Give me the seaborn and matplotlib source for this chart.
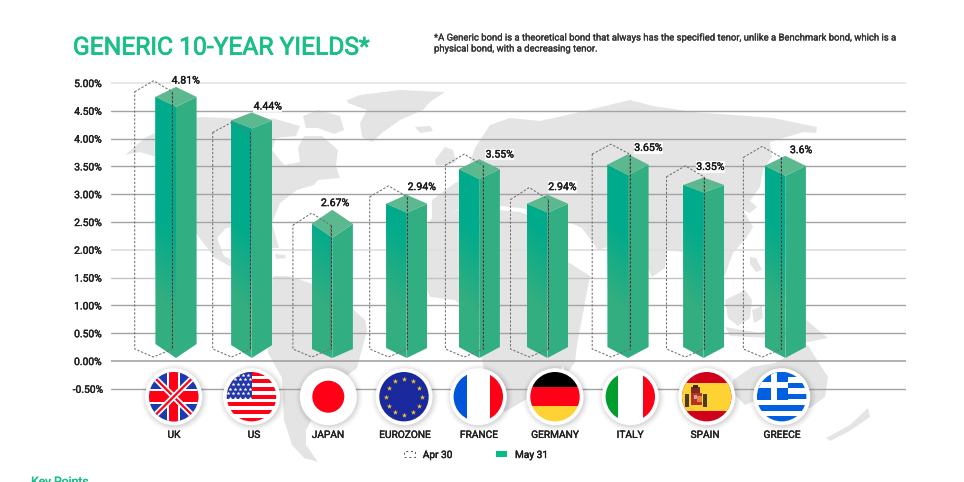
import numpy as np
import pandas as pd
import matplotlib
matplotlib.use("Agg")
import matplotlib.pyplot as plt
from matplotlib.patches import Polygon, Circle, Rectangle, Patch
from matplotlib.path import Path
from matplotlib.transforms import ScaledTranslation
import matplotlib.patheffects as pe
import seaborn as sns

# ---------- data ----------
countries = ["UK", "US", "JAPAN", "EUROZONE", "FRANCE", "GERMANY", "ITALY", "SPAIN", "GREECE"]
apr_30 = [5.04, 4.29, 2.66, 3.15, 3.72, 3.12, 3.90, 3.51, 3.86]
may_31 = [4.93, 4.47, 2.72, 2.99, 3.63, 2.99, 3.72, 3.30, 3.69]
may_labels = ["4.81%", "4.44%", "2.67%", "2.94%", "3.55%", "2.94%", "3.65%", "3.35%", "3.6%"]
y_ticks = [5.0, 4.5, 4.0, 3.5, 3.0, 2.5, 2.0, 1.5, 1.0, 0.5, 0.0, -0.5]
y_tick_labels = ["5.00%", "4.50%", "4.00%", "3.50%", "3.00%", "2.50%", "2.00%", "1.50%", "1.00%", "0.50%", "0.00%", "-0.50%"]

# ---------- style ----------
PX_W, PX_H = 964, 482
Y0_PX, PX_PER_UNIT = 361.0, 55.6
SLOT0_PX, SLOT_PX = 174.0, 76.0
AX_L, AX_R, AX_T, AX_B = 111, 906, 70, 400
BAR_W_PX = 41.2
bar_shift_px = [2, 1.7, 6.3, 4.7, 1.3, -6.5, -2, -2.3, 3.3]
dash_shift_px = [-20.5, -18.5, -14.3, -13.5, -13.8, -24.7, -19, -20.7, -19.8]
xlabel_shift_px = [0, 4, 2, 3, 1, 1, 0, -1, 0]
cap_px = [10, 8, 14, 9, 10, 9, 10.5, 7.5, 10]
base_side_px = [344, 345, 349, 348, 347, 347, 347, 347, 347]
dash_cap_px = [11, 10, 12, 11, 11, 12, 10, 11, 11]
label_off_px = [(9.7, -6.3), (16, -6), (2.7, -6.7), (15, -7.7), (20.4, -4.6),
                (14.8, -7.7), (20.3, -6.3), (6.6, -10.6), (15.7, -5.7)]
flag_x = [173.7, 251.5, 328.3, 404, 478.3, 555, 630.3, 706.7, 781.7]
FLAG_Y, FLAG_R, RING_R = 396.7, 24.7, 28.5
TEAL, GREEN, TOPC, RIGHTC = "#00AB8C", "#33AE80", "#5CB88F", "#32AF82"
MAPC = "#E4E4E4"
TITLEC = "#19BF86"
FONT = "Roboto"
INK = "#1f1f1f"

def medium(color, width=0.28):
    return [pe.withStroke(linewidth=width, foreground=color)]

sns.set_theme(style="white")
plt.rcParams["font.family"] = [FONT, "DejaVu Sans"]

fig = plt.figure(figsize=(PX_W / 100, PX_H / 100), dpi=100, facecolor="white")

# ---------- background map (pixel overlay) ----------
bg = fig.add_axes([0, 0, 1, 1], zorder=0)
bg.set_xlim(0, PX_W); bg.set_ylim(PX_H, 0); bg.axis("off")
land = [
    # North America
    [(125,155),(145,138),(175,122),(200,117),(230,118),(262,124),(272,118),(300,126),(296,136),(276,138),(272,150),
     (284,165),(300,162),(298,148),(304,136),(322,136),(338,150),(336,166),(340,178),(318,180),(314,185),(297,190),
     (280,203),(272,223),(279,248),(272,248),(262,232),(240,226),(226,228),(217,238),(224,256),(250,268),(262,272),
     (272,277),(262,282),(240,272),(215,258),(195,232),(190,205),(178,180),(160,158),(140,152)],
    # Arctic islands
    [(303,116),(318,110),(340,116),(344,130),(334,134),(318,128),(306,128)],
    # Caribbean
    [(275,254),(285,255),(286,258),(276,259)],
    # South America
    [(273,276),(288,276),(310,283),(335,293),(365,320),(367,330),(357,368),(335,385),(322,400),(306,430),(306,445),(318,462),(304,458),(292,445),(284,420),(282,378),(268,353),(266,325)],
    # Greenland
    [(347,100),(360,95),(400,90),(445,92),(430,102),(423,110),(400,120),(382,133),(372,142),(362,137),(360,123),(367,110),(348,103)],
    # Iceland
    [(415,127),(430,126),(433,131),(420,133)],
    # British Isles
    [(435,160),(445,147),(453,150),(456,162),(448,165),(436,165)],
    # Eurasia
    [(470,163),(475,148),(490,125),(510,118),(540,121),(580,112),(630,100),(653,106),(693,112),(773,118),(817,127),(816,133),
     (803,132),(790,136),(770,142),(772,157),(763,170),(760,187),(743,210),(753,227),(747,237),(733,253),(725,275),(715,285),
     (705,270),(695,262),(683,252),(667,250),(665,268),(652,277),(640,252),(615,245),(598,250),(582,228),(568,222),(545,212),
     (520,208),(490,205),(468,206),(432,220),(432,200),(455,183),(465,178)],
    # Africa
    [(432,218),(470,207),(520,212),(555,225),(568,262),(590,276),(577,345),(550,385),(505,412),(490,395),(482,360),(478,325),
     (455,300),(430,297),(415,265),(420,235)],
    # Madagascar
    [(570,350),(577,345),(575,362),(566,375),(563,365)],
    # East-Asia islands
    [(732,198),(745,196),(757,207),(750,213),(738,208)],
    [(750,257),(756,258),(762,270),(756,272),(750,264)],
    # Indonesia
    [(725,300),(745,290),(752,300),(750,318),(738,326),(728,318)],
    [(752,310),(762,306),(763,318),(754,323)],
    [(725,327),(760,333),(800,315),(828,338),(808,342),(770,338),(730,336)],
    # Australia
    [(733,380),(752,367),(775,363),(808,345),(817,360),(828,377),(825,397),(810,408),(793,405),(770,395),(745,405),(735,395)],
    # New Zealand
    [(868,408),(870,417),(848,432),(830,441),(826,438),(850,425)],
]
for pts in land:
    bg.add_patch(Polygon(pts, closed=True, fc=MAPC, ec="none"))

# ---------- main chart ----------
ax = fig.add_axes([AX_L / PX_W, 1 - AX_B / PX_H, (AX_R - AX_L) / PX_W, (AX_B - AX_T) / PX_H], zorder=1)
ax.patch.set_alpha(0)

df = pd.DataFrame({
    "country": countries * 2,
    "value": may_31 * 2,
    "face": ["left"] * len(countries) + ["right"] * len(countries),
})
sns.barplot(data=df, x="country", y="value", hue="face", hue_order=["left", "right"],
            palette={"left": GREEN, "right": RIGHTC}, order=countries, dodge=True,
            width=BAR_W_PX / SLOT_PX, gap=0, saturation=1, legend=False, ax=ax, zorder=3,
            err_kws={"linewidth": 0}, linewidth=0)

u = 1 / PX_PER_UNIT       # one pixel in value units
ux = 1 / SLOT_PX          # one pixel in category units
hw = BAR_W_PX / 2 * ux
tip = (Y0_PX - 358) * u

grad_pos = np.linspace(0, 1, 60)
teal_rgb = matplotlib.colors.to_rgb(TEAL)

for i, v in enumerate(may_31):
    c = i + bar_shift_px[i] * ux
    cap = cap_px[i] * u
    side = (Y0_PX - base_side_px[i]) * u
    l_path = Path([(c - hw, v - cap), (c, v - 2 * cap), (c, tip), (c - hw, side), (c - hw, v - cap)])
    r_path = Path([(c, v - 2 * cap), (c + hw, v - cap), (c + hw, side), (c, tip), (c, v - 2 * cap)])
    lp = ax.containers[0].patches[i]
    rp = ax.containers[1].patches[i]
    for p, path in ((lp, l_path), (rp, r_path)):
        p.set_x(p.get_x() + bar_shift_px[i] * ux)
        p.set_clip_path(path, ax.transData)
    # teal-to-green fade on the front face
    ys = v - (v - tip) * grad_pos
    xs = np.linspace(0, 1, 20)
    xx, yy = np.meshgrid(xs, ys)
    alpha = np.clip((yy + 0.35 * xx - 1.2) / 1.4, 0, 1)
    rgba = np.dstack([np.full_like(alpha, teal_rgb[0]), np.full_like(alpha, teal_rgb[1]),
                      np.full_like(alpha, teal_rgb[2]), alpha])
    im = ax.imshow(rgba, extent=(c - hw, c, tip, v), aspect="auto", zorder=3.1, interpolation="bilinear")
    im.set_clip_path(l_path, ax.transData)
    # top cap
    ax.add_patch(Polygon([(c - hw, v - cap), (c, v), (c + hw, v - cap), (c, v - 2 * cap)],
                         closed=True, fc=TOPC, ec="none", zorder=3.2))
    # printed label
    dx, dy = label_off_px[i]
    ann = ax.annotate(may_labels[i], xy=(c, v), xytext=(dx * 0.72, -dy * 0.72), textcoords="offset points",
                      ha="center", va="center", fontsize=7.6, color="#1a1a1a", zorder=6,
                      bbox=dict(boxstyle="square,pad=0.06", fc="white", ec="none", alpha=0.9))
    ann.set_path_effects(medium("#1a1a1a"))

# Apr 30 dashed outlines
dhw = 18.8 * ux
for i, v in enumerate(apr_30):
    c = i + dash_shift_px[i] * ux
    cap = dash_cap_px[i] * u
    side_b = (Y0_PX - 349) * u
    tip_b = (Y0_PX - 357) * u
    ax.plot([c - dhw, c, c + dhw, c + dhw, c, c - dhw, c - dhw],
            [v - cap, v, v - cap, side_b, tip_b, side_b, v - cap],
            color="#707070", lw=0.75, ls=(0, (2.2, 1.6)), zorder=5)
    ax.plot([c + dhw, c + dhw], [v - cap, side_b], color="#3c3c3c", lw=0.75, ls=(0, (2.2, 1.6)), zorder=5.1)

ax.set_xlim((AX_L - SLOT0_PX) / SLOT_PX, (AX_R - SLOT0_PX) / SLOT_PX)
ax.set_ylim((Y0_PX - AX_B) * u, (Y0_PX - AX_T) * u)
ax.set_yticks(y_ticks)
ax.set_yticklabels(y_tick_labels)
ax.set_xlabel(""); ax.set_ylabel("")
ax.tick_params(axis="y", length=0, pad=16.5, labelsize=7.4, labelcolor=INK)
ax.tick_params(axis="x", length=0, pad=21.5, labelsize=7.3, labelcolor=INK)
for t in ax.get_yticklabels():
    t.set_ha("center"); t.set_path_effects(medium(INK))
for t, s in zip(ax.get_xticklabels(), xlabel_shift_px):
    t.set_path_effects(medium(INK))
    t.set_transform(t.get_transform() + ScaledTranslation(s / 100, 0, fig.dpi_scale_trans))
for s in ax.spines.values():
    s.set_visible(False)
ax.grid(True, axis="y", color="#A3A3A3", lw=1.0)
ax.grid(False, axis="x")
ax.set_axisbelow(True)
grid = ax.get_ygridlines()
grid[0].set_color("#E6E6E6"); grid[0].set_linewidth(1.3)
grid[6].set_color("#DEDEDE"); grid[6].set_linewidth(1.2)
grid[7].set_color("#C4C4C4")
grid[10].set_linewidth(1.2)

# legend
handles = [Patch(fc="white", ec="#555555", lw=0.7, ls=(0, (2, 3)), label="Apr 30"),
           Patch(fc="#00BE85", ec="none", label="May 31")]
leg = ax.legend(handles=handles, ncol=2, frameon=False, handlelength=1.1, handleheight=0.55,
                handletextpad=0.75, columnspacing=4.3, borderpad=0, borderaxespad=0,
                loc="center left", bbox_to_anchor=(404 / PX_W, 1 - 455 / PX_H), bbox_transform=fig.transFigure,
                labelcolor=INK, prop={"size": 7.3})
for t in leg.get_texts():
    t.set_path_effects(medium(INK))

# ---------- flags and header (pixel overlay) ----------
fg = fig.add_axes([0, 0, 1, 1], zorder=2)
fg.set_xlim(0, PX_W); fg.set_ylim(PX_H, 0); fg.axis("off"); fg.patch.set_alpha(0)

RED, BLUE, GOLD = "#FF0016", "#0060DF", "#FFD233"

def flag(cx, draw):
    for r, a in ((34, .012), (33, .015), (32, .02), (31, .025), (30, .03), (29, .04)):
        fg.add_patch(Circle((cx + 1, FLAG_Y + 1), r, fc="black", ec="none", alpha=a))
    fg.add_patch(Circle((cx, FLAG_Y), RING_R, fc="white", ec="none"))
    clip = Circle((cx, FLAG_Y), FLAG_R, transform=fg.transData, fc="white", ec="none")
    fg.add_patch(clip)
    before = set(fg.get_children())
    draw(cx, FLAG_Y)
    for art in fg.get_children():
        if art not in before:
            art.set_clip_path(clip)

def rect(x0, y0, x1, y1, c):
    fg.add_patch(Rectangle((x0, y0), x1 - x0, y1 - y0, fc=c, ec="none"))

def uk(x, y):
    rect(x - 26, y - 26, x + 26, y + 26, "#1C3AAE")
    for s in (1, -1):
        fg.plot([x - 26, x + 26], [y - 26 * s, y + 26 * s], color="white", lw=4.2, solid_capstyle="butt")
        fg.plot([x - 26, x + 26], [y - 26 * s, y + 26 * s], color=RED, lw=1.6, solid_capstyle="butt")
    rect(x - 6.5, y - 26, x + 6.5, y + 26, "white")
    rect(x - 26, y - 7.5, x + 26, y + 7.5, "white")
    rect(x - 4.5, y - 26, x + 4.5, y + 26, RED)
    rect(x - 26, y - 5.7, x + 26, y + 5.7, RED)

def us(x, y):
    h = 50 / 13
    rect(x - 26, y - 26, x + 26, y + 26, "white")
    for k in range(0, 13, 2):
        rect(x - 26, y - 25 + k * h, x + 26, y - 25 + (k + 1) * h, RED)
    rect(x - 26, y - 26, x, y + 2, "#2438A8")
    xs, ys = np.meshgrid(np.arange(-23, 0, 5.0), np.arange(-22, 2, 4.6))
    xs = xs + (np.arange(xs.shape[0])[:, None] % 2) * 2.5
    fg.scatter(x + xs.ravel() - 1, y + ys.ravel(), s=5, c="white", marker="*", linewidths=0.2)

def japan(x, y):
    rect(x - 26, y - 26, x + 26, y + 26, "white")
    fg.add_patch(Circle((x, y), 16, fc=RED, ec="none"))

def eu(x, y):
    rect(x - 26, y - 26, x + 26, y + 26, "#1A2A9C")
    a = np.arange(12) * np.pi / 6
    fg.scatter(x + 17.8 * np.cos(a), y + 17.8 * np.sin(a), s=16, c="#F7C52E", marker="*", linewidths=0)

def france(x, y):
    rect(x - 26, y - 26, x + 26, y + 26, "white")
    rect(x - 26, y - 26, x - 11, y + 26, "#0055D9")
    rect(x + 12, y - 26, x + 26, y + 26, RED)

def germany(x, y):
    rect(x - 26, y - 26, x + 26, y - 9.3, "black")
    rect(x - 26, y - 9.3, x + 26, y + 9.3, RED)
    rect(x - 26, y + 9.3, x + 26, y + 26, GOLD)

def italy(x, y):
    rect(x - 26, y - 26, x + 26, y + 26, "white")
    rect(x - 26, y - 26, x - 12.7, y + 26, "#009E2E")
    rect(x + 13, y - 26, x + 26, y + 26, RED)

def spain(x, y):
    rect(x - 26, y - 26, x + 26, y + 26, "#D0021B")
    rect(x - 26, y - 14, x + 26, y + 14, GOLD)
    cx = x - 11
    rect(cx - 5, y - 4, cx + 6, y + 8, "#B5312A")
    rect(cx + 1, y - 1, cx + 6, y + 5, "#E08A2A")
    rect(cx - 2, y - 2, cx + 1, y + 2, "#C9A0C0")
    rect(cx - 4.5, y - 10, cx + 4.5, y - 4, "#7A2A1E")
    rect(cx - 2.5, y - 11.5, cx + 2.5, y - 9, "#3a2a1a")
    rect(cx - 10.5, y - 3, cx - 7, y + 10, "#4a3a2a")
    rect(cx + 7.5, y - 3, cx + 11, y + 10, "#4a3a2a")

def greece(x, y):
    h = 50 / 9
    rect(x - 26, y - 26, x + 26, y + 26, "white")
    for k in range(0, 9, 2):
        rect(x - 26, y - 25 + k * h, x + 26, y - 25 + (k + 1) * h, BLUE)
    rect(x - 26, y - 26, x + 6, y + 3, BLUE)
    rect(x - 11, y - 26, x - 5, y + 3, "white")
    rect(x - 26, y - 14.5, x + 6, y - 8.5, "white")

for fx, fn in zip(flag_x, [uk, us, japan, eu, france, germany, italy, spain, greece]):
    flag(fx, fn)

# header texts
title = fg.text(73, 54.5, "GENERIC 10-YEAR YIELDS*", fontsize=17.7,
                color=TITLEC, ha="left", va="baseline")
title.set_path_effects(medium(TITLEC, 0.6))
note1 = fg.text(434, 40.5, "*A Generic bond is a theoretical bond that always has the specified tenor, unlike a Benchmark bond, which is a",
                fontsize=6.83, color="#333333", ha="left", va="baseline")
note2 = fg.text(434, 51.5, "physical bond, with a decreasing tenor.",
                fontsize=6.83, color="#333333", ha="left", va="baseline")
for t in (note1, note2):
    t.set_path_effects(medium("#333333", 0.2))
key = fg.text(31, 485.5, "Key Points", fontsize=8.8, color=TITLEC, ha="left", va="baseline", clip_on=False)
key.set_path_effects(medium(TITLEC))

fig.savefig("out.png", dpi=100, facecolor="white")
